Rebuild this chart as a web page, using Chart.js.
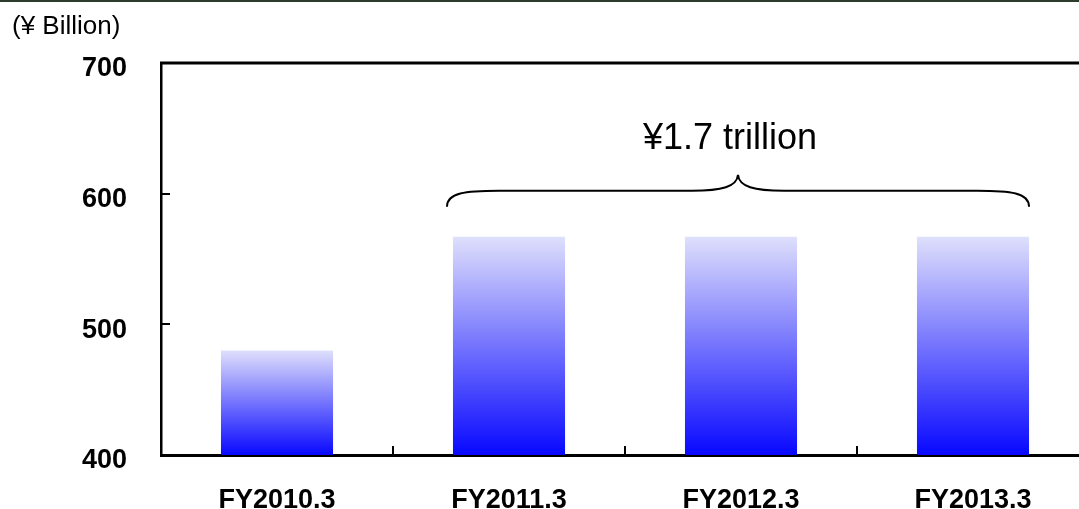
<!DOCTYPE html>
<html>
<head>
<meta charset="utf-8">
<script src="https://cdn.jsdelivr.net/npm/chart.js@4/dist/chart.umd.min.js"></script>
<style>
  html, body { margin: 0; padding: 0; background: #fff; overflow: hidden; }
  #wrap { position: absolute; left: 0; top: 0; width: 1079px; height: 509px; overflow: hidden; }
  canvas { position: absolute; left: 0; top: 0; }
</style>
</head>
<body>
<div id="wrap"><canvas id="c" width="1092" height="509"></canvas></div>
<script>
// Fiscal years and planned investment (¥ billion)
const categories = ['FY2010.3', 'FY2011.3', 'FY2012.3', 'FY2013.3'];
const investment = [480, 567, 567, 567];

// Value axis range
const axisMin = 400;
const axisMax = 700;
const axisStep = 100;

// Three-year total bracket
const bracketFrom = 1;
const bracketTo = 3;
const bracketLabel = '¥1.7 trillion';
const unitLabel = '(¥ Billion)';

const FONT = "'Liberation Sans', Arial, Helvetica, sans-serif";

function barGradient(ctx) {
  const chart = ctx.chart;
  const y = chart.scales.y;
  if (!y || ctx.parsed === undefined || ctx.parsed === null) return '#7878ff';
  const top = y.getPixelForValue(ctx.parsed.y);
  const base = y.getPixelForValue(axisMin);
  if (!isFinite(top) || !isFinite(base) || base - top < 1) return '#7878ff';
  const g = chart.ctx.createLinearGradient(0, top, 0, base);
  g.addColorStop(0, '#dfdffc');
  g.addColorStop(1, '#0808ff');
  return g;
}

const decorations = {
  id: 'decorations',
  afterDraw(chart) {
    const { ctx, chartArea: a, scales } = chart;
    const x = scales.x, y = scales.y;
    ctx.save();

    // frame line along the very top
    ctx.fillStyle = '#2d3b2d';
    ctx.fillRect(0, 0, chart.width, 2);

    // top edge of the plot
    ctx.strokeStyle = '#000';
    ctx.lineWidth = 3;
    ctx.beginPath();
    ctx.moveTo(a.left - 1, a.top);
    ctx.lineTo(a.right, a.top);
    ctx.stroke();

    // inward tick marks on the value axis
    ctx.lineWidth = 2;
    y.ticks.forEach(t => {
      const py = Math.round(y.getPixelForValue(t.value));
      ctx.beginPath();
      ctx.moveTo(a.left, py);
      ctx.lineTo(a.left + 9, py);
      ctx.stroke();
    });
    // inward tick marks between categories
    for (let i = 0; i < categories.length - 1; i++) {
      const px = Math.round((x.getPixelForValue(i) + x.getPixelForValue(i + 1)) / 2);
      ctx.beginPath();
      ctx.moveTo(px, a.bottom);
      ctx.lineTo(px, a.bottom - 9);
      ctx.stroke();
    }

    // unit caption
    ctx.fillStyle = '#000';
    ctx.font = '26px ' + FONT;
    ctx.textAlign = 'left';
    ctx.textBaseline = 'middle';
    ctx.fillText(unitLabel, 12, 27);

    // curly bracket over the three planned years
    const meta = chart.getDatasetMeta(0);
    const b1 = meta.data[bracketFrom], b3 = meta.data[bracketTo];
    const xL = b1.x - b1.width / 2 - 6;
    const xR = b3.x + b3.width / 2;
    const xm = (xL + xR) / 2;
    const barTop = Math.min(b1.y, b3.y);
    const yEnd = barTop - 30, yH = barTop - 46, yP = barTop - 62;
    const r = 52, r2 = 46;
    ctx.lineWidth = 2;
    ctx.beginPath();
    ctx.moveTo(xL, yEnd);
    ctx.bezierCurveTo(xL, yH + 2, xL + r * 0.35, yH, xL + r, yH);
    ctx.lineTo(xm - r2, yH);
    ctx.bezierCurveTo(xm - r2 * 0.35, yH, xm - 1, yH - 4, xm, yP);
    ctx.bezierCurveTo(xm + 1, yH - 4, xm + r2 * 0.35, yH, xm + r2, yH);
    ctx.lineTo(xR - r, yH);
    ctx.bezierCurveTo(xR - r * 0.35, yH, xR, yH + 2, xR, yEnd);
    ctx.stroke();

    ctx.font = '36px ' + FONT;
    ctx.textAlign = 'center';
    ctx.fillText(bracketLabel, xm - 8, barTop - 98);

    ctx.restore();
  }
};

new Chart(document.getElementById('c'), {
  type: 'bar',
  data: {
    labels: categories,
    datasets: [{
      data: investment,
      backgroundColor: barGradient,
      borderWidth: 0,
      barPercentage: 0.483,
      categoryPercentage: 1
    }]
  },
  options: {
    responsive: false,
    animation: false,
    devicePixelRatio: 1,
    layout: { padding: { top: 63, right: 3, left: 0, bottom: 0 } },
    plugins: { legend: { display: false }, tooltip: { enabled: false }, title: { display: false } },
    scales: {
      x: {
        grid: { display: false },
        border: { display: true, color: '#000', width: 3 },
        ticks: { color: '#000', font: { family: FONT, size: 27, weight: 'bold' }, padding: 21, maxRotation: 0, autoSkip: false },
        afterFit(s) { s.height = 54; }
      },
      y: {
        min: axisMin,
        max: axisMax,
        grid: { display: false },
        border: { display: true, color: '#000', width: 2.5 },
        ticks: { stepSize: axisStep, color: '#000', font: { family: FONT, size: 27, weight: 'bold' }, padding: 26, labelOffset: 6 },
        afterFit(s) { s.width = 161; }
      }
    }
  },
  plugins: [decorations]
});
</script>
</body>
</html>
